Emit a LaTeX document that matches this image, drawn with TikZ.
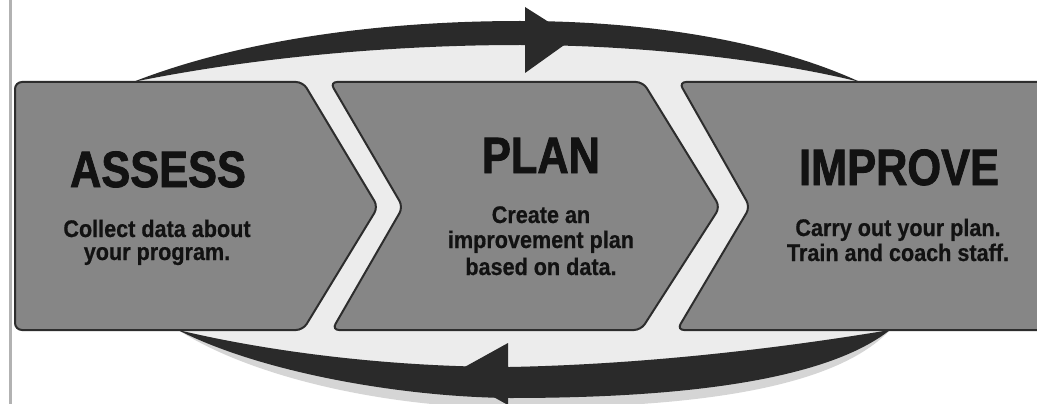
\documentclass[tikz,border=0pt]{standalone}
\usepackage{fontspec}
\newfontfamily\titlefont[FakeStretch=0.85,FakeBold=1.6]{Liberation Sans Bold}
\newfontfamily\subfont[FakeStretch=0.9,FakeBold=0.6]{Liberation Sans Bold}
\definecolor{boxgray}{RGB}{134,134,134}
\definecolor{boxedge}{RGB}{45,45,45}
\definecolor{ringdark}{RGB}{42,42,42}
\definecolor{ringlight}{RGB}{236,236,236}
\definecolor{inktext}{RGB}{18,18,18}
\tikzset{
  stagebox/.style={fill=boxgray, draw=boxedge, line width=2pt, rounded corners=7pt},
  ringband/.style={fill=ringdark},
  ringhalo/.style={fill=gray!55, opacity=0.6},
  ringinner/.style={fill=ringlight},
  titletext/.style={font=\titlefont\fontsize{51}{51}\selectfont, text=inktext, anchor=base, inner sep=0pt},
  subtext/.style={font=\subfont\fontsize{24}{24}\selectfont, text=inktext, anchor=base, inner sep=0pt},
}
\begin{document}
\begin{tikzpicture}[x=1pt,y=-1pt]
\clip (0,0) rectangle (1037,404);
\fill[white] (0,0) rectangle (1037,404);
% page edge line
\draw[gray!60, line width=3pt] (10,0) -- (10,404);

% ring anchor points
\coordinate (TL) at (133,82);
\coordinate (TR) at (860,82);
\coordinate (BL) at (178,330);
\coordinate (BR) at (890,330);

% light inner part of the ring (also shows in the gaps between stages)
\path[ringinner] (TL) .. controls (250,58) and (390,45) .. (520,45)
  .. controls (650,45) and (780,62) .. (TR) -- (BR)
  .. controls (800,345) and (660,364) .. (510,367)
  .. controls (390,367) and (270,352) .. (BL) -- cycle;

% top band (left to right) with arrowhead
\path[ringband] (TL) .. controls (240,40) and (380,21) .. (520,21)
  .. controls (660,21) and (780,45) .. (TR)
  .. controls (780,62) and (650,45) .. (520,45)
  .. controls (390,45) and (250,58) .. (TL) -- cycle;
\coordinate (TA1) at (525,7);
\coordinate (TA2) at (525,73);
\coordinate (TAtip) at (574,38);
\path[ringband] (TA1) -- (TAtip) -- (TA2) -- cycle;

% bottom band (right to left) with arrowhead
\path[ringhalo] (BL) .. controls (260,382) and (400,408) .. (510,408)
  .. controls (670,408) and (830,394) .. (BR)
  .. controls (800,345) and (660,364) .. (510,367)
  .. controls (390,367) and (270,352) .. (BL) -- cycle;
\path[ringband] (BL) .. controls (260,372) and (400,397) .. (510,398)
  .. controls (660,398) and (820,385) .. (BR)
  .. controls (800,345) and (660,364) .. (510,367)
  .. controls (390,367) and (270,352) .. (BL) -- cycle;
\coordinate (BA1) at (508,343);
\coordinate (BA2) at (508,405);
\coordinate (BAtip) at (452,374);
\path[ringband] (BA1) -- (BAtip) -- (BA2) -- cycle;

% stage chevrons
\draw[stagebox] (15,82) -- (303,82) -- (378,207) -- (303,330) -- (15,330) -- cycle;
\draw[stagebox] (330,82) -- (643,82) -- (720,207) -- (641,330) -- (332,330) -- (403,207) -- cycle;
\draw[stagebox] (679,82) -- (1050,82) -- (1050,330) -- (677,330) -- (750,207) -- cycle;

% texts
\node[titletext] (assess) at (158,187) {ASSESS};
\node[subtext] (assess1) at (157,237) {Collect data about};
\node[subtext] (assess2) at (157,260) {your program.};

\node[titletext] (plan) at (541,173) {PLAN};
\node[subtext] (plan1) at (541,223) {Create an};
\node[subtext] (plan2) at (541,248) {improvement plan};
\node[subtext] (plan3) at (541,275) {based on data.};

\node[titletext] (improve) at (899,185) {IMPROVE};
\node[subtext] (improve1) at (898,236) {Carry out your plan.};
\node[subtext] (improve2) at (898,261) {Train and coach staff.};
\end{tikzpicture}
\end{document}
